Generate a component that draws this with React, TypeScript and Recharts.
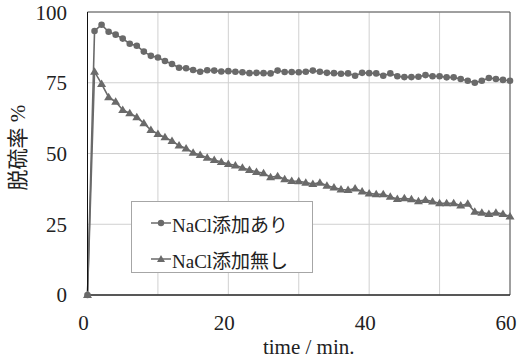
import { LineChart, Line, XAxis, YAxis, CartesianGrid, Legend, ReferenceArea } from 'recharts';

const times = [
  0, 1, 2, 3, 4, 5, 6, 7, 8, 9, 10, 11, 12, 13, 14, 15, 16, 17, 18, 19, 20,
  21, 22, 23, 24, 25, 26, 27, 28, 29, 30, 31, 32, 33, 34, 35, 36, 37, 38, 39, 40,
  41, 42, 43, 44, 45, 46, 47, 48, 49, 50, 51, 52, 53, 54, 55, 56, 57, 58, 59, 60,
];

// NaCl添加あり
const withNaCl = [
  0, 93.3, 95.5, 93, 92, 90.6, 88.8, 88.1, 86, 84.5, 83.9, 82.7, 81.6, 80.3, 80.1, 79.5,
  78.9, 79.4, 79.3, 79.0, 79.1, 78.9, 78.7, 78.4, 78.5, 78.4, 78.3, 79.3, 78.8, 78.8, 78.7,
  78.9, 79.3, 78.9, 78.5, 78.4, 78.2, 78.3, 77.5, 78.5, 78.4, 78.3, 77.5, 78.3, 77.3, 77.0,
  77.0, 77.1, 77.7, 77.3, 77.3, 76.9, 76.9, 76.3, 75.7, 75.0, 75.7, 76.7, 76.3, 76.0, 75.7,
];

// NaCl添加無し
const withoutNaCl = [
  0, 78.9, 74.6, 69.9, 68.3, 65.4, 64.2, 62.8, 60.7, 58.3, 56.9, 55.7, 54.4, 52.8, 51.8, 50.3,
  49.5, 48.5, 47.7, 47.0, 46.3, 45.8, 45.0, 44.2, 43.5, 43.0, 41.6, 42.0, 40.9, 40.3, 40.2,
  39.7, 39.2, 39.7, 38.6, 38.0, 37.3, 37.1, 37.6, 36.6, 35.9, 35.6, 35.6, 34.7, 33.9, 34.2,
  33.8, 33.1, 33.6, 33.0, 32.4, 32.4, 32.4, 31.6, 32.2, 29.4, 29.1, 28.6, 29.1, 28.6, 27.7,
];

const xTicks = [0, 10, 20, 30, 40, 50, 60];
const xLabelTicks = [20, 40];
const yTicks = [0, 25, 50, 75, 100];
const yMinorTicks = [5, 10, 15, 20, 25, 30, 35, 40, 45, 50, 55, 60, 65, 70, 75, 80, 85, 90, 95];

const seriesNames = ['NaCl添加あり', 'NaCl添加無し'];

const data = times.map((t, i) => ({ t, a: withNaCl[i], b: withoutNaCl[i] }));

const FONT = '"Liberation Serif", "Times New Roman", "Noto Sans CJK JP", serif';
const GRAY = '#6a6a6a';

const TriangleDot = (props: any) => {
  const { cx, cy } = props;
  if (cx == null || cy == null) return null;
  return <path d={`M${cx},${cy - 4.5} L${cx + 4.5},${cy + 3} L${cx - 4.5},${cy + 3} Z`} fill={GRAY} />;
};

const XTick = ({ x, y, payload }: any) => {
  if (payload.value % 20 !== 0) return <g />;
  return (
    <text x={x - 4} y={y + 35} textAnchor="middle" fontFamily={FONT} fontSize={21} fill="#222">
      {payload.value}
    </text>
  );
};

const YLabel = ({ viewBox }: any) => {
  const cx = 18;
  const cy = viewBox.y + viewBox.height / 2 - 6;
  return (
    <text
      x={cx}
      y={cy}
      transform={`rotate(-90 ${cx} ${cy})`}
      textAnchor="middle"
      dominantBaseline="central"
      fontFamily={FONT}
      fontSize={21}
      fill="#222"
    >
      脱硫率 %
    </text>
  );
};

const XLabel = ({ viewBox }: any) => {
  const cx = viewBox.x + viewBox.width / 2 + 10;
  return (
    <text x={cx} y={354} textAnchor="middle" fontFamily={FONT} fontSize={21} fill="#222">
      time / min.
    </text>
  );
};

const LegendBox = () => (
  <div
    style={{
      width: 182,
      height: 72,
      boxSizing: 'border-box',
      border: '1px solid #a6a6a6',
      background: '#fff',
      fontFamily: FONT,
      fontSize: 19,
      color: '#222',
      position: 'relative',
    }}
  >
    {seriesNames.map((name, i) => (
      <div
        key={name}
        style={{ position: 'absolute', left: 19, top: i === 0 ? 8 : 44, height: 26, display: 'flex', alignItems: 'center', whiteSpace: 'nowrap' }}
      >
        <svg width={20} height={12} style={{ marginRight: 1 }}>
          <line x1={0} y1={6} x2={20} y2={6} stroke={GRAY} strokeWidth={1.5} />
          {i === 0 ? (
            <circle cx={10} cy={6} r={3.2} fill={GRAY} />
          ) : (
            <path d="M10,2 L14,9 L6,9 Z" fill={GRAY} />
          )}
        </svg>
        <span>{name}</span>
      </div>
    ))}
  </div>
);

export default function App() {
  return (
    <div style={{ position: 'absolute', left: 0, top: 0, background: '#fff' }}>
      <LineChart width={519} height={362} data={data} margin={{ top: 12, right: 9, bottom: 0, left: 0 }}>
        <CartesianGrid stroke="#d0d0d0" strokeWidth={1} />
        <XAxis
          dataKey="t"
          type="number"
          domain={[0, 60]}
          ticks={xTicks}
          height={67}
          axisLine={{ stroke: '#111', strokeWidth: 1 }}
          tickLine={false}
          tickSize={0}
          tickMargin={0}
          tick={<XTick />}
          label={<XLabel />}
        />
        <XAxis
          xAxisId="minor"
          dataKey="t"
          type="number"
          domain={[0, 60]}
          ticks={xLabelTicks}
          mirror
          height={0}
          axisLine={false}
          tick={false}
          tickSize={4}
          tickLine={{ stroke: '#333' }}
        />
        <YAxis
          type="number"
          domain={[0, 100]}
          ticks={yTicks}
          width={87.5}
          axisLine={{ stroke: '#111', strokeWidth: 1 }}
          tickLine={false}
          tickSize={0}
          tickMargin={20.5}
          tick={{ fill: '#222', fontSize: 21, fontFamily: FONT }}
          label={<YLabel />}
        />
        <YAxis
          yAxisId="minor"
          type="number"
          domain={[0, 100]}
          ticks={yMinorTicks}
          mirror
          width={0}
          axisLine={false}
          tick={false}
          tickSize={4}
          tickLine={{ stroke: '#333' }}
        />
        <ReferenceArea x1={0} x2={60} y1={0} y2={100} fill="none" stroke="#595959" strokeWidth={1} ifOverflow="visible" />
        <Line
          dataKey="a"
          name={seriesNames[0]}
          stroke={GRAY}
          strokeWidth={1.6}
          dot={{ r: 3.3, fill: GRAY, stroke: 'none' }}
          isAnimationActive={false}
        />
        <Line
          dataKey="b"
          name={seriesNames[1]}
          stroke={GRAY}
          strokeWidth={1.6}
          dot={<TriangleDot />}
          isAnimationActive={false}
        />
        <Legend
          layout="vertical"
          align="center"
          verticalAlign="middle"
          content={<LegendBox />}
          wrapperStyle={{ left: 131, top: 201, width: 182, height: 72 }}
        />
      </LineChart>
    </div>
  );
}
